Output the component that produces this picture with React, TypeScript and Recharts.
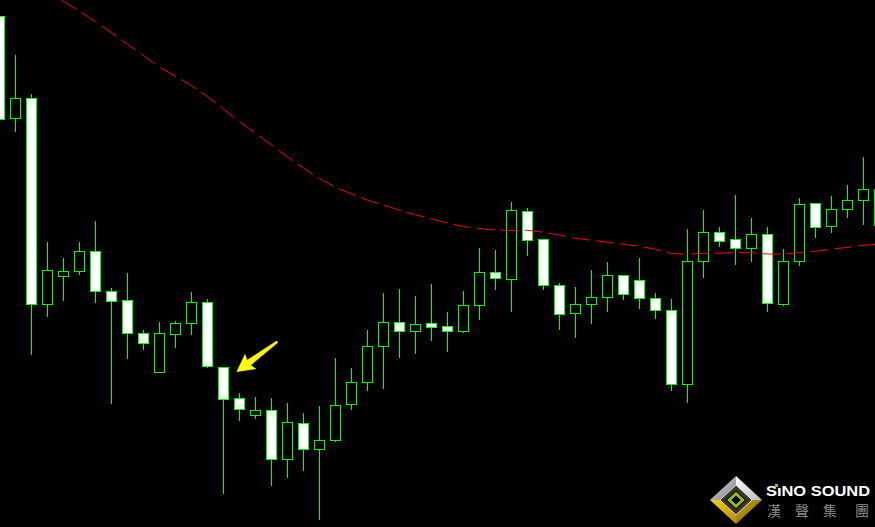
import React from 'react';
import { ComposedChart, Bar, Line, XAxis, YAxis, ReferenceLine } from 'recharts';

// ---- data (prices) ----
const opens = [
  1.1784, 1.16817, 1.17017, 1.14961, 1.15237, 1.15287, 1.15486, 1.15086, 1.14995, 1.14666,
  1.14282, 1.14662, 1.14773, 1.14975, 1.14333, 1.14017, 1.13847, 1.13897, 1.13407, 1.13767,
  1.13507, 1.13597, 1.13957, 1.14177, 1.14537, 1.14777, 1.14687, 1.14767, 1.14737, 1.14687,
  1.14947, 1.15277, 1.15207, 1.15887, 1.15607, 1.15147, 1.14867, 1.14957, 1.15027, 1.15247,
  1.15197, 1.15017, 1.14897, 1.14157, 1.15387, 1.15677, 1.15607, 1.15517, 1.15657, 1.14957,
  1.15387, 1.15967, 1.15737, 1.15907, 1.15997, 1.15753,
];
const highs = [
  1.1795, 1.1745, 1.1706, 1.1558, 1.15418, 1.1558, 1.15788, 1.15119, 1.15271, 1.14699,
  1.1478, 1.1479, 1.15079, 1.15008, 1.14333, 1.14067, 1.1403, 1.14017, 1.1397, 1.1387,
  1.1394, 1.1442, 1.1432, 1.147, 1.1507, 1.1511, 1.1504, 1.1516, 1.1488, 1.1509,
  1.15517, 1.155, 1.1598, 1.1592, 1.15607, 1.15167, 1.1513, 1.153, 1.1538, 1.15247,
  1.1542, 1.1507, 1.1501, 1.1571, 1.159, 1.1573, 1.1605, 1.1582, 1.1573, 1.1551,
  1.1602, 1.15967, 1.1604, 1.1615, 1.1643, 1.162,
];
const lows = [
  1.1675, 1.16683, 1.14454, 1.14834, 1.14992, 1.15254, 1.14971, 1.13963, 1.14413, 1.14504,
  1.14282, 1.14524, 1.14652, 1.14323, 1.13057, 1.13793, 1.13813, 1.13143, 1.13223, 1.13293,
  1.12803, 1.13583, 1.13903, 1.14093, 1.14113, 1.14423, 1.14463, 1.14593, 1.14483, 1.14673,
  1.14803, 1.15103, 1.14883, 1.15443, 1.15103, 1.14703, 1.14623, 1.14763, 1.14883, 1.15003,
  1.14913, 1.14813, 1.14093, 1.13973, 1.15223, 1.15533, 1.15353, 1.15383, 1.14883, 1.14943,
  1.15343, 1.15623, 1.15673, 1.15823, 1.15753, 1.157,
];
const closes = [
  1.16807, 1.17017, 1.14961, 1.15297, 1.15287, 1.15486, 1.15086, 1.14992, 1.14666, 1.14565,
  1.14666, 1.14766, 1.14975, 1.14343, 1.14013, 1.13907, 1.13897, 1.13407, 1.13777, 1.13507,
  1.13597, 1.13947, 1.14177, 1.14537, 1.14777, 1.14687, 1.14757, 1.14727, 1.14687, 1.14947,
  1.15277, 1.15217, 1.15897, 1.15597, 1.15147, 1.14857, 1.14957, 1.15027, 1.15247, 1.15057,
  1.15017, 1.14897, 1.14157, 1.15387, 1.15677, 1.15587, 1.15517, 1.15657, 1.14967, 1.15387,
  1.15957, 1.15727, 1.15907, 1.15997, 1.16107, 1.16107,
];
const movingAvg = [
  1.1837, 1.18273, 1.18177, 1.18081, 1.17985, 1.17889, 1.17783, 1.17674, 1.17557, 1.17445,
  1.1733, 1.17238, 1.17144, 1.17033, 1.1691, 1.16784, 1.1667, 1.1655, 1.16432, 1.1632,
  1.16215, 1.16128, 1.16062, 1.15998, 1.15949, 1.15898, 1.15853, 1.1581, 1.1577, 1.15734,
  1.15716, 1.15698, 1.15697, 1.15696, 1.15678, 1.1565, 1.15617, 1.15598, 1.15577, 1.15557,
  1.15538, 1.15507, 1.15465, 1.15457, 1.15467, 1.15467, 1.15476, 1.15472, 1.1546, 1.15457,
  1.15475, 1.15487, 1.15509, 1.15527, 1.15547, 1.1556,
];
// arrow annotation: [bar index, price] for tail and tip
const arrowTail = { idx: 17.36, price: 1.14583 };
const arrowTip = { idx: 14.83, price: 1.14283 };

const brandName = 'SıNO SOUND';
const brandChars = ['漢', '聲', '集', '團'];

const X_DOMAIN: [number, number] = [0.03125, 54.71875];
const Y_DOMAIN: [number, number] = [1.1273, 1.18];

const data = opens.map((o, i) => ({
  idx: i,
  open: o,
  high: highs[i],
  low: lows[i],
  close: closes[i],
  range: [lows[i], highs[i]],
  ma: movingAvg[i],
}));

const GREEN = '#00ff00';

function Candle(props: any) {
  const { x, y, width, height, payload } = props;
  if (!payload || x == null || y == null) return null;
  const { open, close, high, low } = payload;
  const span = high - low || 1e-9;
  const py = (v: number) => y + ((high - v) / span) * height;
  const cx = Math.floor(x + width / 2) + 0.5;
  const top = Math.round(py(Math.max(open, close))) + 0.5;
  const bot = Math.round(py(Math.min(open, close))) + 0.5;
  const bull = close > open;
  return (
    <g>
      <line x1={cx} x2={cx} y1={Math.round(py(high))} y2={Math.round(py(low))} stroke={GREEN} strokeWidth={1} />
      <rect
        x={cx - 5}
        y={top}
        width={10}
        height={Math.max(bot - top, 1)}
        fill={bull ? '#000000' : '#ffffff'}
        stroke={GREEN}
        strokeWidth={1}
      />
    </g>
  );
}

function Arrow(props: any) {
  const { x1, y1, x2, y2 } = props;
  if ([x1, y1, x2, y2].some((v) => v == null || isNaN(v))) return null;
  const dx = x1 - x2;
  const dy = y1 - y2;
  const len = Math.sqrt(dx * dx + dy * dy) || 1;
  const ux = dx / len;
  const uy = dy / len;
  const nx = -uy;
  const ny = ux;
  const headLen = 17;
  const headHalf = 9;
  const shaftHalf = 3;
  const tailHalf = 1;
  const bx = x2 + ux * headLen;
  const by = y2 + uy * headLen;
  const pts = [
    [x2, y2],
    [bx + nx * headHalf, by + ny * headHalf],
    [bx + nx * shaftHalf - ux * 2, by + ny * shaftHalf - uy * 2],
    [x1 + nx * tailHalf, y1 + ny * tailHalf],
    [x1 - nx * tailHalf, y1 - ny * tailHalf],
    [bx - nx * shaftHalf - ux * 2, by - ny * shaftHalf - uy * 2],
    [bx - nx * headHalf, by - ny * headHalf],
  ]
    .map((p) => `${p[0].toFixed(2)},${p[1].toFixed(2)}`)
    .join(' ');
  return <polygon points={pts} fill="#ffff00" stroke="#ffff00" strokeWidth={0.5} />;
}

function Logo() {
  const cx = 736;
  const cy = 500;
  const d = (s: number) =>
    `${cx},${cy - 24 * s} ${cx + 26 * s},${cy} ${cx},${cy + 24 * s} ${cx - 26 * s},${cy}`;
  const s2 = 0.62;
  const charX = [767, 795, 823, 855];
  return (
    <svg width={875} height={527} style={{ position: 'absolute', left: 0, top: 0, pointerEvents: 'none' }}>
      <defs>
        <linearGradient id="gTL" x1="0" y1="0" x2="1" y2="1">
          <stop offset="0" stopColor="#e6e6e6" />
          <stop offset="1" stopColor="#7a7a7a" />
        </linearGradient>
        <linearGradient id="gTR" x1="0" y1="0" x2="1" y2="1">
          <stop offset="0" stopColor="#ffffff" />
          <stop offset="1" stopColor="#b9b9b9" />
        </linearGradient>
        <linearGradient id="gBL" x1="0" y1="0" x2="1" y2="1">
          <stop offset="0" stopColor="#f2d21a" />
          <stop offset="1" stopColor="#b58f00" />
        </linearGradient>
        <linearGradient id="gBR" x1="0" y1="0" x2="1" y2="1">
          <stop offset="0" stopColor="#c9a200" />
          <stop offset="1" stopColor="#7e6400" />
        </linearGradient>
      </defs>
      <polygon points={`${cx},${cy - 24} ${cx},${cy} ${cx - 26},${cy}`} fill="url(#gTL)" />
      <polygon points={`${cx},${cy - 24} ${cx + 26},${cy} ${cx},${cy}`} fill="url(#gTR)" />
      <polygon points={`${cx - 26},${cy} ${cx},${cy} ${cx},${cy + 24}`} fill="url(#gBL)" />
      <polygon points={`${cx + 26},${cy} ${cx},${cy + 24} ${cx},${cy}`} fill="url(#gBR)" />
      <polygon points={d(s2)} fill="#3b3428" stroke="#d9d9d9" strokeWidth={1} />
      <polygon points={d(0.42)} fill="#1c1a14" />
      <polygon points={d(0.26)} fill="#000000" stroke="#8dc21f" strokeWidth={2.6} />
      <text
        x={766}
        y={496}
        fill="#ffffff"
        fontFamily="'Liberation Sans', Arial, sans-serif"
        fontWeight={700}
        fontSize={15}
        textLength={104}
        lengthAdjust="spacingAndGlyphs"
      >
        {brandName}
      </text>
      <rect x={775} y={484} width={3} height={3} fill="#8dc21f" />
      {brandChars.map((ch, i) => (
        <text
          key={ch}
          x={charX[i]}
          y={516}
          fill="#8c8c8c"
          fontFamily="'Noto Sans CJK TC', 'Noto Sans CJK SC', sans-serif"
          fontSize={14}
        >
          {ch}
        </text>
      ))}
    </svg>
  );
}

export default function App() {
  return (
    <div style={{ position: 'fixed', left: 0, top: 0, width: 875, height: 527, background: '#000000', overflow: 'hidden' }}>
      <ComposedChart
        width={875}
        height={527}
        data={data}
        margin={{ top: 0, right: 0, bottom: 0, left: 0 }}
        style={{ background: '#000000' }}
      >
        <XAxis dataKey="idx" type="number" domain={X_DOMAIN} allowDataOverflow hide />
        <YAxis type="number" domain={Y_DOMAIN} allowDataOverflow hide />
        <Line
          dataKey="ma"
          type="linear"
          stroke="#ff0000"
          strokeWidth={1}
          strokeDasharray="18 6"
          dot={false}
          activeDot={false}
          isAnimationActive={false}
        />
        <Bar dataKey="range" barSize={11} shape={Candle} isAnimationActive={false} />
        <ReferenceLine
          segment={[
            { x: arrowTail.idx, y: arrowTail.price },
            { x: arrowTip.idx, y: arrowTip.price },
          ]}
          shape={Arrow}
          ifOverflow="visible"
        />
      </ComposedChart>
      <Logo />
    </div>
  );
}
